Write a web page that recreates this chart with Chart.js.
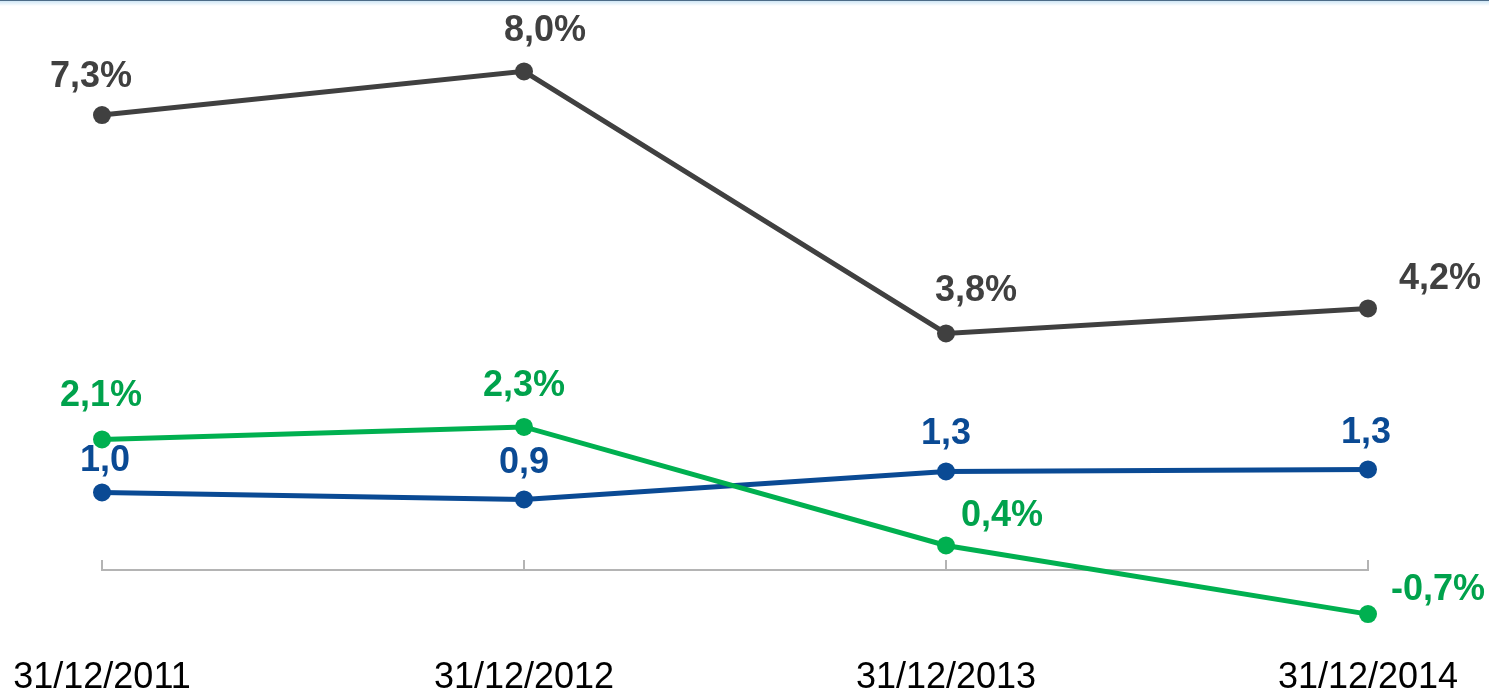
<!DOCTYPE html>
<html>
<head>
<meta charset="utf-8">
<script src="https://cdn.jsdelivr.net/npm/chart.js@4.4.1/dist/chart.umd.min.js"></script>
<style>
  html, body { margin: 0; padding: 0; background: #ffffff; }
  #wrap { position: relative; width: 1489px; height: 692px; overflow: hidden; }
  #topbar { position: absolute; left: 0; top: 0; width: 1489px; height: 6px;
    border-top: 1px solid #4d6c88;
    background: linear-gradient(to bottom, #cfe6f5 0%, #ffffff 100%); box-sizing: border-box; }
  canvas { position: absolute; left: 0; top: 0; }
</style>
</head>
<body>
<div id="wrap">
  <canvas id="c" width="1489" height="692"></canvas>
  <div id="topbar"></div>
</div>
<script>
// ---- data ----
const categories = ["31/12/2011", "31/12/2012", "31/12/2013", "31/12/2014"];
const greySeries = [7.3, 8.0, 3.8, 4.2];     // %
const greenSeries = [2.1, 2.3, 0.4, -0.7];   // %
const blueSeries = [1.0, 0.9, 1.3, 1.33];    // ratio

// ---- label placement (offsets from the point, px) ----
const greyLabelOffsets = [[-11, -38], [21, -40], [30, -42], [72, -29]];
const greenLabelOffsets = [[-1, -43], [0, -41], [56, -29], [70, -24]];
const blueLabelOffsets = [[3, -31], [0, -36], [0, -37], [-2, -36]];

const GREY = '#404040', GREEN = '#00b050', BLUE = '#0a4a94';
const FONT = '"Liberation Sans", Arial, sans-serif';

function fmt(v, pct) {
  return v.toFixed(1).replace('.', ',') + (pct ? '%' : '');
}

const labelPlugin = {
  id: 'pointLabels',
  afterDatasetsDraw(chart) {
    const ctx = chart.ctx;
    ctx.save();
    ctx.font = 'bold 36px ' + FONT;
    ctx.textAlign = 'center';
    ctx.textBaseline = 'middle';
    chart.data.datasets.forEach((ds, di) => {
      const meta = chart.getDatasetMeta(di);
      ctx.fillStyle = ds.labelColor;
      meta.data.forEach((pt, i) => {
        const off = ds.labelOffsets[i];
        ctx.fillText(fmt(ds.data[i], ds.isPct), pt.x + off[0], pt.y + off[1]);
      });
    });
    ctx.restore();
  }
};

new Chart(document.getElementById('c'), {
  type: 'line',
  data: {
    labels: categories,
    datasets: [
      {
        data: greySeries, yAxisID: 'y', borderColor: GREY, backgroundColor: GREY,
        pointBackgroundColor: GREY, pointBorderColor: GREY,
        borderWidth: 5, pointRadius: 9, pointBorderWidth: 0, tension: 0,
        labelColor: GREY, labelOffsets: greyLabelOffsets, isPct: true, clip: false
      },
      {
        data: greenSeries, yAxisID: 'y', borderColor: GREEN, backgroundColor: GREEN,
        pointBackgroundColor: GREEN, pointBorderColor: GREEN,
        borderWidth: 5, pointRadius: 9, pointBorderWidth: 0, tension: 0,
        labelColor: '#00a24c', labelOffsets: greenLabelOffsets, isPct: true, clip: false
      },
      {
        data: blueSeries, yAxisID: 'y2', borderColor: BLUE, backgroundColor: BLUE,
        pointBackgroundColor: BLUE, pointBorderColor: BLUE,
        borderWidth: 5, pointRadius: 9, pointBorderWidth: 0, tension: 0,
        labelColor: BLUE, labelOffsets: blueLabelOffsets, isPct: false, clip: false
      }
    ]
  },
  options: {
    responsive: false,
    animation: false,
    events: [],
    layout: { padding: { left: 102, right: 121, top: 5, bottom: 28 } },
    plugins: { legend: { display: false }, tooltip: { enabled: false }, title: { display: false } },
    scales: {
      x: {
        type: 'category',
        position: { y: 0 },
        offset: false,
        afterFit(scale) { scale.paddingLeft = 0; scale.paddingRight = 0; },
        grid: { display: true, drawOnChartArea: false, drawTicks: true, tickLength: -11,
                color: '#b4b4b4', lineWidth: 2 },
        border: { display: true, color: '#b4b4b4', width: 2 },
        ticks: { color: '#000000', font: { family: FONT, size: 36 }, padding: 97,
                 maxRotation: 0, autoSkip: false }
      },
      y: {
        display: false, min: -1.5, max: 9
      },
      y2: {
        display: false, min: -1.46, max: 7.93
      }
    }
  },
  plugins: [labelPlugin]
});
</script>
</body>
</html>
